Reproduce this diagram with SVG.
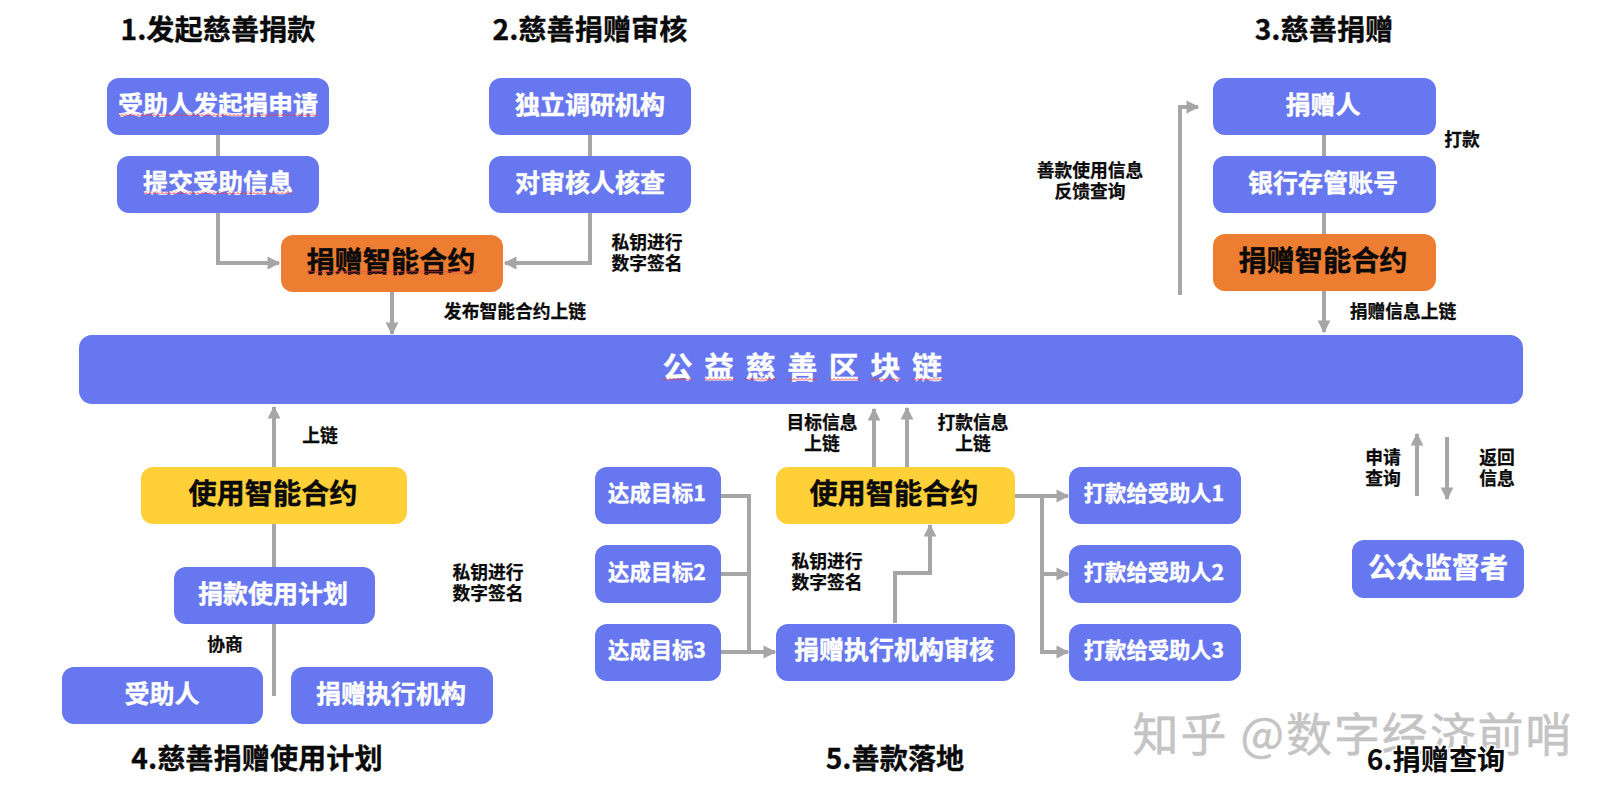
<svg xmlns="http://www.w3.org/2000/svg" width="1614" height="800" viewBox="0 0 1614 800">
<style>
text{font-family:"Noto Sans CJK SC","Noto Sans",sans-serif;font-weight:700;text-anchor:middle}
.box{fill:#6677f0}.org{fill:#ed7d31}.yel{fill:#ffd038}
.w25{font-size:25px;fill:#fff;stroke:#fff;stroke-width:.4}.w22{font-size:21.3px;fill:#fff;stroke:#fff;stroke-width:.4}.w28{font-size:28px;fill:#fff;stroke:#fff;stroke-width:.4}
.k28{font-size:28.2px;fill:#0a0a0a;stroke:#0a0a0a;stroke-width:.4}.k18{font-size:17.8px;fill:#0a0a0a;stroke:#0a0a0a;stroke-width:.25}
.t{font-size:28.2px;fill:#0a0a0a;stroke:#0a0a0a;stroke-width:.3}
.c{fill:none;stroke:#a6a6a6;stroke-width:4}
.sq{fill:url(#wave)}
</style>
<defs>
<marker id="a" viewBox="0 0 10 10" refX="9" refY="5" markerWidth="3.2" markerHeight="3.5" orient="auto"><path d="M0 0L10 5L0 10Z" fill="#a6a6a6"/></marker>
<pattern id="wave" width="4" height="3" patternUnits="userSpaceOnUse"><path d="M0 2.5L2 .5L4 2.5" fill="none" stroke="#e8404a" stroke-width="1"/></pattern>
</defs>
<rect width="1614" height="800" fill="#fff"/>
<g id="watermark"><text x="1352" y="751" textLength="439" style="font-size:46px;font-weight:400;fill:#c4c4c4;stroke:#c4c4c4;stroke-width:.5">知乎 @数字经济前哨</text></g>
<g id="titles">
<text class="t" x="218" y="40">1.发起慈善捐款</text>
<text class="t" x="590" y="40">2.慈善捐赠审核</text>
<text class="t" x="1324" y="40">3.慈善捐赠</text>
<text class="t" x="257" y="769">4.慈善捐赠使用计划</text>
<text class="t" x="895" y="769">5.善款落地</text>
<text class="t" x="1436" y="770" style="paint-order:stroke;stroke:#fff;stroke-width:3">6.捐赠查询</text>
</g>
<g id="connectors">
<path class="c" d="M218 135V156M218 213V263H279" marker-end="url(#a)"/>
<path class="c" d="M590 135V156M590 213V263H505" marker-end="url(#a)"/>
<path class="c" d="M392 292V334" marker-end="url(#a)"/>
<path class="c" d="M1324 135V156M1324 213V234M1324 291V332" marker-end="url(#a)"/>
<path class="c" d="M1180 295V107H1198" marker-end="url(#a)"/>
<path class="c" d="M274 696V624M274 567V524M274 467V407" marker-end="url(#a)"/>
<path class="c" d="M874 467V409" marker-end="url(#a)"/>
<path class="c" d="M907 467V408" marker-end="url(#a)"/>
<path class="c" d="M721 496H749V652M721 574H749M721 652H775" marker-end="url(#a)"/>
<path class="c" d="M895 623V573H930V525" marker-end="url(#a)"/>
<path class="c" d="M1014 496H1068" marker-end="url(#a)"/>
<path class="c" d="M1042 496V652H1068" marker-end="url(#a)"/>
<path class="c" d="M1042 574H1068" marker-end="url(#a)"/>
<path class="c" d="M1417 496V434" marker-end="url(#a)"/>
<path class="c" d="M1447 437V499" marker-end="url(#a)"/>
</g>
<g id="n1"><rect class="box" x="107" y="78" width="222" height="57" rx="12"/><text class="w25" x="218" y="114">受助人发起捐申请</text><rect class="sq" x="118" y="113" width="200" height="3"/></g>
<g id="n2"><rect class="box" x="117" y="156" width="202" height="57" rx="12"/><text class="w25" x="218" y="192">提交受助信息</text><rect class="sq" x="143" y="191" width="150" height="3"/></g>
<g id="n3"><rect class="org" x="281" y="235" width="222" height="57" rx="12"/><text class="k28" x="391" y="272">捐赠智能合约</text><rect class="sq" x="307" y="271" width="170" height="3"/></g>
<g id="n4"><rect class="box" x="489" y="78" width="202" height="57" rx="12"/><text class="w25" x="590" y="114">独立调研机构</text></g>
<g id="n5"><rect class="box" x="489" y="156" width="202" height="57" rx="12"/><text class="w25" x="590" y="192">对审核人核查</text></g>
<g id="n6"><rect class="box" x="1213" y="78" width="223" height="57" rx="12"/><text class="w25" x="1323" y="114">捐赠人</text></g>
<g id="n7"><rect class="box" x="1213" y="156" width="223" height="57" rx="12"/><text class="w25" x="1323" y="192">银行存管账号</text></g>
<g id="n8"><rect class="org" x="1213" y="234" width="223" height="57" rx="12"/><text class="k28" x="1323" y="271">捐赠智能合约</text></g>
<g id="chain"><rect class="box" x="79" y="335" width="1444" height="69" rx="13"/><text class="w28" x="808" y="378" style="font-size:30px;letter-spacing:11.6px">公益慈善区块链</text><g class="sq"><rect x="662" y="378" width="31" height="3"/><rect x="704" y="378" width="31" height="3"/><rect x="745" y="378" width="31" height="3"/><rect x="787" y="378" width="31" height="3"/><rect x="829" y="378" width="31" height="3"/><rect x="870" y="378" width="31" height="3"/><rect x="912" y="378" width="31" height="3"/></g></g>
<g id="n9"><rect class="yel" x="141" y="467" width="266" height="57" rx="12"/><text class="k28" x="273" y="504">使用智能合约</text></g>
<g id="n10"><rect class="box" x="174" y="567" width="201" height="57" rx="12"/><text class="w25" x="273" y="603">捐款使用计划</text></g>
<g id="n11"><rect class="box" x="62" y="667" width="201" height="57" rx="12"/><text class="w25" x="162" y="703">受助人</text></g>
<g id="n12"><rect class="box" x="291" y="667" width="202" height="57" rx="12"/><text class="w25" x="391" y="703">捐赠执行机构</text></g>
<g id="n13"><rect class="box" x="595" y="467" width="126" height="57" rx="12"/><text class="w22" x="657" y="501">达成目标1</text></g>
<g id="n14"><rect class="box" x="595" y="545" width="126" height="58" rx="12"/><text class="w22" x="657" y="580">达成目标2</text></g>
<g id="n15"><rect class="box" x="595" y="624" width="126" height="57" rx="12"/><text class="w22" x="657" y="658">达成目标3</text></g>
<g id="n16"><rect class="yel" x="776" y="467" width="239" height="57" rx="12"/><text class="k28" x="894" y="504">使用智能合约</text></g>
<g id="n17"><rect class="box" x="776" y="624" width="239" height="57" rx="12"/><text class="w25" x="894" y="659">捐赠执行机构审核</text></g>
<g id="n18"><rect class="box" x="1069" y="467" width="172" height="57" rx="12"/><text class="w22" x="1154" y="501">打款给受助人1</text></g>
<g id="n19"><rect class="box" x="1069" y="545" width="172" height="58" rx="12"/><text class="w22" x="1154" y="580">打款给受助人2</text></g>
<g id="n20"><rect class="box" x="1069" y="624" width="172" height="57" rx="12"/><text class="w22" x="1154" y="658">打款给受助人3</text></g>
<g id="n21"><rect class="box" x="1352" y="540" width="172" height="58" rx="12"/><text class="w28" x="1438" y="578">公众监督者</text></g>
<g id="labels">
<text class="k18" y="249"><tspan x="647">私钥进行</tspan><tspan x="647" dy="21">数字签名</tspan></text>
<text class="k18" x="515" y="318">发布智能合约上链</text>
<text class="k18" y="177"><tspan x="1090">善款使用信息</tspan><tspan x="1090" dy="21">反馈查询</tspan></text>
<text class="k18" x="1462" y="146">打款</text>
<text class="k18" x="1403" y="318">捐赠信息上链</text>
<text class="k18" x="320" y="442">上链</text>
<text class="k18" y="579"><tspan x="488">私钥进行</tspan><tspan x="488" dy="21">数字签名</tspan></text>
<text class="k18" x="225" y="651">协商</text>
<text class="k18" y="429"><tspan x="822">目标信息</tspan><tspan x="822" dy="21">上链</tspan></text>
<text class="k18" y="429"><tspan x="973">打款信息</tspan><tspan x="973" dy="21">上链</tspan></text>
<text class="k18" y="568"><tspan x="827">私钥进行</tspan><tspan x="827" dy="21">数字签名</tspan></text>
<text class="k18" y="464"><tspan x="1383">申请</tspan><tspan x="1383" dy="21">查询</tspan></text>
<text class="k18" y="464"><tspan x="1497">返回</tspan><tspan x="1497" dy="21">信息</tspan></text>
</g>
</svg>
